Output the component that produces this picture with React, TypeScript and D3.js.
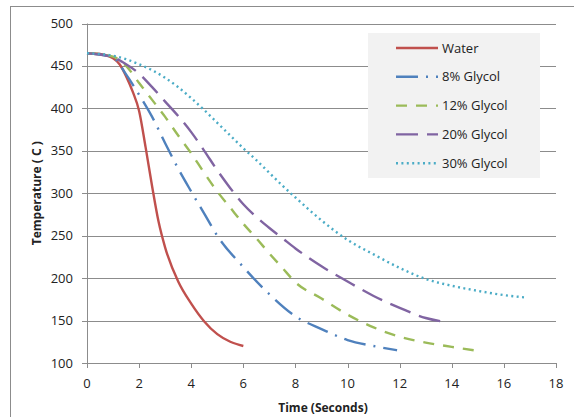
import React from "react";
import * as d3 from "d3";

// values
const waterT = [0, 0.5, 1, 1.25, 1.5, 1.75, 2, 2.25, 2.5, 2.75, 3, 3.5, 4, 4.5, 5, 5.5, 6];
const waterC = [465, 464, 459, 452, 438, 420, 397, 354, 308, 266, 236, 196, 170, 149, 134, 125, 120];

const g8T = [0, 1, 1.5, 2, 2.5, 3, 3.5, 4, 4.5, 5, 6, 7, 8, 9, 10, 11, 11.9];
const g8C = [465, 460, 440, 416, 390, 359, 329, 302, 276, 250, 213, 181, 155, 140, 127, 120, 115];

const g12T = [0, 1, 1.5, 2, 2.5, 3, 3.5, 4, 4.5, 5, 5.5, 6, 6.5, 7, 7.5, 8, 9, 10, 11, 12, 13, 14, 14.85];
const g12C = [465, 461, 450, 430, 410, 390, 368, 347, 324, 302, 283, 264, 247, 229, 212, 195, 176, 157, 142, 131, 124, 119, 115];

const g20T = [0, 1, 1.5, 2, 2.5, 3, 3.5, 4, 4.5, 5, 5.5, 6, 6.5, 7, 7.5, 8, 9, 10, 11, 12, 13, 13.85];
const g20C = [465, 460, 452, 441, 425, 408, 391, 372, 350, 327, 306, 287, 272, 259, 247, 235, 214, 196, 179, 165, 153, 148];

const g30T = [0, 1, 1.5, 2, 2.5, 3, 3.5, 4, 4.5, 5, 5.5, 6, 6.5, 7, 7.5, 8, 9, 10, 11, 12, 13, 14, 15, 16, 16.9];
const g30C = [465, 462, 458, 452, 445, 436, 425, 412, 398, 383, 368, 353, 339, 324, 309, 295, 268, 245, 228, 212, 199, 191, 185, 180, 177];

const seriesNames = ["Water", "8% Glycol", "12% Glycol", "20% Glycol", "30% Glycol"];
const seriesColors = ["#c0504d", "#4f81bd", "#9bbb59", "#8064a2", "#4bacc6"];
const seriesDash = ["", "22 8 2 8", "11 9", "22 9", "2 3.4"];

const xTicks = [0, 2, 4, 6, 8, 10, 12, 14, 16, 18];
const yTicks = [100, 150, 200, 250, 300, 350, 400, 450, 500];

const W = 574;
const H = 417;
const plot = { left: 87, right: 556, top: 23.5, bottom: 363 };
const font = "'Open Sans', 'Liberation Sans', sans-serif";

export default function App() {
  const x = d3.scaleLinear().domain([0, 18]).range([plot.left, plot.right]);
  const y = d3.scaleLinear().domain([100, 500]).range([plot.bottom, plot.top]);

  const series = [
    [waterT, waterC],
    [g8T, g8C],
    [g12T, g12C],
    [g20T, g20C],
    [g30T, g30C],
  ].map(([ts, cs]) => ts.map((t, i) => [t, cs[i]] as [number, number]));

  const line = d3
    .line<[number, number]>()
    .x((d) => x(d[0]))
    .y((d) => y(d[1]))
    .curve(d3.curveMonotoneX);

  const legend = { x: 368, y: 33, w: 172, h: 145, rowY: 48, rowH: 28.8 };

  return (
    <svg
      width={W}
      height={H}
      style={{ position: "absolute", left: 0, top: 0, background: "#fff" }}
      fontFamily={font}
    >
      <rect x={10.5} y={6.5} width={W + 10} height={H + 10} fill="#fff" stroke="#8c8c8c" />

      {/* gridlines */}
      {yTicks.map((v) => (
        <line
          key={"g" + v}
          x1={plot.left}
          x2={plot.right}
          y1={Math.round(y(v)) + 0.5}
          y2={Math.round(y(v)) + 0.5}
          stroke="#8c8c8c"
          strokeWidth={1}
        />
      ))}

      {/* y axis */}
      <line x1={plot.left + 0.5} x2={plot.left + 0.5} y1={plot.top} y2={plot.bottom} stroke="#8c8c8c" />
      {yTicks.map((v) => (
        <g key={"y" + v}>
          <line
            x1={plot.left - 5}
            x2={plot.left}
            y1={Math.round(y(v)) + 0.5}
            y2={Math.round(y(v)) + 0.5}
            stroke="#8c8c8c"
          />
          <text x={plot.left - 14} y={y(v)} dy="0.35em" textAnchor="end" fontSize={13} fill="#222">
            {v}
          </text>
        </g>
      ))}

      {/* x axis */}
      {xTicks.map((v) => (
        <g key={"x" + v}>
          <line
            x1={Math.round(x(v)) + 0.5}
            x2={Math.round(x(v)) + 0.5}
            y1={plot.bottom}
            y2={plot.bottom + 5}
            stroke="#8c8c8c"
          />
          <text x={x(v)} y={plot.bottom + 20} dy="0.35em" textAnchor="middle" fontSize={13} fill="#222">
            {v}
          </text>
        </g>
      ))}

      {/* series */}
      {series.map((pts, i) => (
        <path
          key={seriesNames[i]}
          d={line(pts) ?? ""}
          fill="none"
          stroke={seriesColors[i]}
          strokeWidth={2.4}
          strokeDasharray={seriesDash[i] || undefined}
        />
      ))}

      {/* legend */}
      <rect x={legend.x} y={legend.y} width={legend.w} height={legend.h} fill="#f2f2f2" />
      {seriesNames.map((name, i) => {
        const ly = legend.rowY + i * legend.rowH;
        return (
          <g key={"l" + name}>
            <line
              x1={396}
              x2={438}
              y1={ly}
              y2={ly}
              stroke={seriesColors[i]}
              strokeWidth={2.4}
              strokeDasharray={seriesDash[i] || undefined}
            />
            <text x={442} y={ly} dy="0.35em" fontSize={13} fill="#222">
              {name}
            </text>
          </g>
        );
      })}

      {/* axis titles */}
      <text
        transform={`translate(37,${(plot.top + plot.bottom) / 2}) rotate(-90)`}
        textAnchor="middle"
        dy="0.35em"
        fontSize={12}
        fontWeight="bold"
        fill="#222"
      >
        Temperature ( C )
      </text>
      <text x={323} y={408} textAnchor="middle" dy="0.35em" fontSize={12} fontWeight="bold" fill="#222">
        Time (Seconds)
      </text>
    </svg>
  );
}
